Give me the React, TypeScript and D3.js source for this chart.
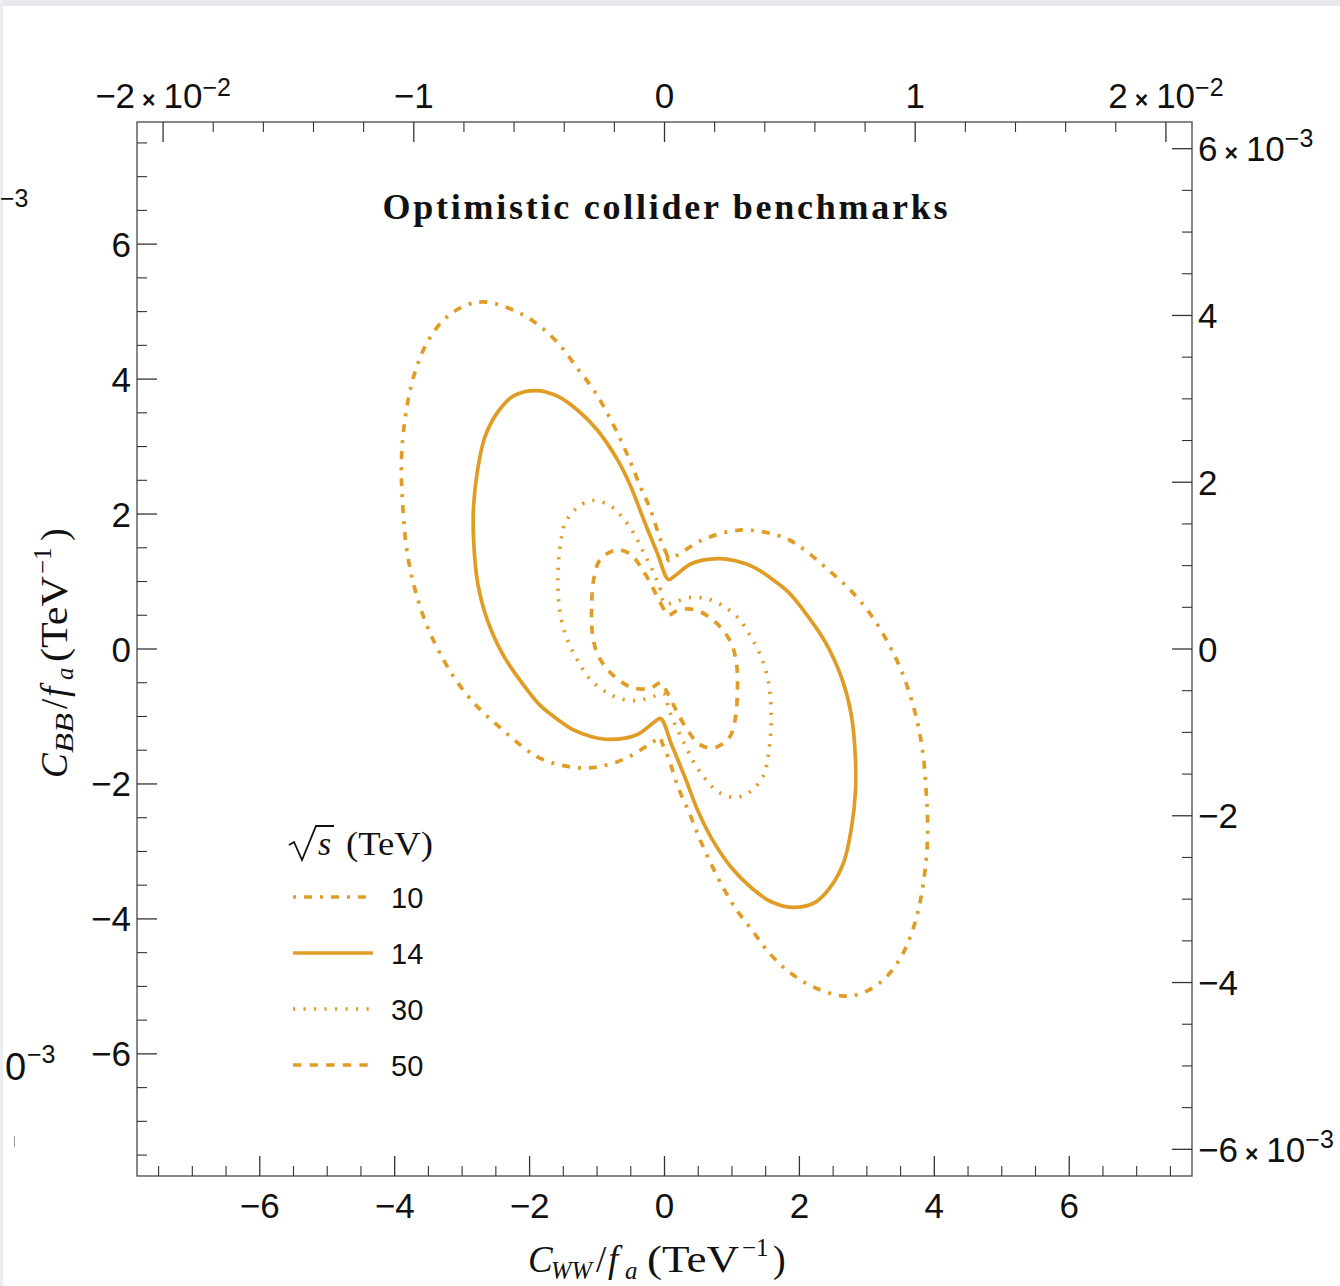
import React from 'react';
import * as d3 from 'd3';

// ---------- data ----------
const energies = ['10', '14', '30', '50'];

// sqrt(s) = 10 TeV (dot-dashed)
const curve10: [number, number][] = [
  [0.06, 1.31], [0.04, 1.38], [-0.06, 1.62], [-0.21, 2.07], [-0.36, 2.41], [-0.5, 2.76],
  [-0.65, 3.1], [-0.85, 3.5], [-1.05, 3.84], [-1.3, 4.17], [-1.54, 4.49], [-1.84, 4.78],
  [-2.19, 5.0], [-2.63, 5.14], [-2.93, 5.1], [-3.27, 4.88], [-3.52, 4.54], [-3.67, 4.19],
  [-3.77, 3.84], [-3.84, 3.45], [-3.89, 3.0], [-3.9, 2.56], [-3.88, 2.12], [-3.84, 1.62],
  [-3.77, 1.18], [-3.67, 0.78], [-3.52, 0.34], [-3.33, -0.06], [-3.08, -0.48], [-2.75, -0.88],
  [-2.43, -1.17], [-2.1, -1.45], [-1.8, -1.64], [-1.29, -1.76], [-0.95, -1.74], [-0.55, -1.61],
  [-0.16, -1.37], [-0.06, -1.31],
  [-0.04, -1.38], [0.06, -1.62], [0.21, -2.07], [0.36, -2.41], [0.5, -2.76],
  [0.65, -3.1], [0.85, -3.5], [1.05, -3.84], [1.3, -4.17], [1.54, -4.49], [1.84, -4.78],
  [2.19, -5.0], [2.63, -5.14], [2.93, -5.1], [3.27, -4.88], [3.52, -4.54], [3.67, -4.19],
  [3.77, -3.84], [3.84, -3.45], [3.89, -3.0], [3.9, -2.56], [3.88, -2.12], [3.84, -1.62],
  [3.77, -1.18], [3.67, -0.78], [3.52, -0.34], [3.33, 0.06], [3.08, 0.48], [2.75, 0.88],
  [2.43, 1.17], [2.1, 1.45], [1.8, 1.64], [1.29, 1.76], [0.95, 1.74], [0.55, 1.61],
  [0.16, 1.37],
];

// sqrt(s) = 14 TeV (solid)
const curve14: [number, number][] = [
  [0.06, 1.03], [-0.11, 1.43], [-0.31, 1.92], [-0.5, 2.41], [-0.7, 2.81], [-1.0, 3.25],
  [-1.3, 3.55], [-1.59, 3.75], [-1.91, 3.83], [-2.24, 3.75], [-2.48, 3.5], [-2.66, 3.15],
  [-2.77, 2.66], [-2.83, 2.12], [-2.83, 1.62], [-2.77, 0.98], [-2.63, 0.44], [-2.38, -0.11],
  [-2.04, -0.6], [-1.84, -0.84], [-1.59, -1.04], [-1.35, -1.2], [-1.08, -1.3], [-0.8, -1.34],
  [-0.41, -1.27], [-0.16, -1.09], [-0.06, -1.03],
  [0.11, -1.43], [0.31, -1.92], [0.5, -2.41], [0.7, -2.81], [1.0, -3.25],
  [1.3, -3.55], [1.59, -3.75], [1.91, -3.83], [2.24, -3.75], [2.48, -3.5], [2.66, -3.15],
  [2.77, -2.66], [2.83, -2.12], [2.83, -1.62], [2.77, -0.98], [2.63, -0.44], [2.38, 0.11],
  [2.04, 0.6], [1.84, 0.84], [1.59, 1.04], [1.35, 1.2], [1.08, 1.3], [0.8, 1.34],
  [0.41, 1.27], [0.16, 1.09],
];

// sqrt(s) = 30 TeV (dotted)
const curve30: [number, number][] = [
  [0.0, 0.67], [-0.06, 0.88], [-0.16, 1.13], [-0.31, 1.43], [-0.43, 1.67], [-0.6, 1.92],
  [-0.8, 2.12], [-1.07, 2.2], [-1.3, 2.09], [-1.47, 1.87], [-1.54, 1.57], [-1.58, 1.13],
  [-1.57, 0.73], [-1.52, 0.39], [-1.42, 0.09], [-1.27, -0.2], [-1.1, -0.45], [-0.85, -0.65],
  [-0.6, -0.75], [-0.36, -0.76], [-0.16, -0.7], [0.0, -0.67],
  [0.06, -0.88], [0.16, -1.13], [0.31, -1.43], [0.43, -1.67], [0.6, -1.92],
  [0.8, -2.12], [1.07, -2.2], [1.3, -2.09], [1.47, -1.87], [1.54, -1.57], [1.58, -1.13],
  [1.57, -0.73], [1.52, -0.39], [1.42, -0.09], [1.27, 0.2], [1.1, 0.45], [0.85, 0.65],
  [0.6, 0.75], [0.36, 0.76], [0.16, 0.7],
];

// sqrt(s) = 50 TeV (dashed)
const curve50: [number, number][] = [
  [0.05, 0.5], [-0.01, 0.59], [-0.11, 0.78], [-0.21, 0.98], [-0.36, 1.23], [-0.5, 1.4],
  [-0.7, 1.47], [-0.95, 1.33], [-1.05, 1.03], [-1.08, 0.63], [-1.07, 0.24], [-1.0, -0.06],
  [-0.85, -0.3], [-0.65, -0.48], [-0.46, -0.58], [-0.21, -0.58], [-0.05, -0.5],
  [0.01, -0.59], [0.11, -0.78], [0.21, -0.98], [0.36, -1.23], [0.5, -1.4],
  [0.7, -1.47], [0.95, -1.33], [1.05, -1.03], [1.08, -0.63], [1.07, -0.24], [1.0, 0.06],
  [0.85, 0.3], [0.65, 0.48], [0.46, 0.58], [0.21, 0.58],
];

const curves = [curve10, curve14, curve30, curve50];

// axis ticks
const bottomMajorTicks = [-6, -4, -2, 0, 2, 4, 6];
const bottomTickLabels = ['−6', '−4', '−2', '0', '2', '4', '6'];
const leftMajorTicks = [-6, -4, -2, 0, 2, 4, 6];
const leftTickLabels = ['−6', '−4', '−2', '0', '2', '4', '6'];
const topMajorTicks = [-0.02, -0.01, 0, 0.01, 0.02];
const topTickLabels = [
  { m: '−2', e: '−2' }, { m: '−1' }, { m: '0' }, { m: '1' }, { m: '2', e: '−2' },
];
const rightMajorTicks = [-0.006, -0.004, -0.002, 0, 0.002, 0.004, 0.006];
const rightTickLabels = [
  { m: '−6', e: '−3' }, { m: '−4' }, { m: '−2' }, { m: '0' }, { m: '2' }, { m: '4' }, { m: '6', e: '−3' },
];

// ---------- styles ----------
const ORANGE = '#E09C24';
const DASHES: Record<string, string | undefined> = {
  '10': '8,8,3,8',
  '14': undefined,
  '30': '2.2,8.3',
  '50': '8.3,8.3',
};
const W = 1340;
const H = 1286;
const L = 137, R = 1192, T = 122, B = 1176;
const SANS = '"Liberation Sans", Arial, sans-serif';
const SERIF = '"Liberation Serif", "Times New Roman", serif';

function SciLabel(props: { x: number; y: number; anchor: string; m: string; e?: string; supDy: number }) {
  const { x, y, anchor, m, e, supDy } = props;
  return (
    <text x={x} y={y} textAnchor={anchor as any} fontFamily={SANS} fontSize={35} fill="#111">
      {m}
      {e ? (
        <>
          <tspan fontSize={23} fontWeight="bold" dx={7}>×</tspan>
          <tspan dx={8}>10</tspan>
          <tspan fontSize={25} dy={supDy}>{e}</tspan>
        </>
      ) : null}
    </text>
  );
}

export default function App() {
  const x = d3.scaleLinear().domain([-7.82, 7.82]).range([L, R]);
  const y = d3.scaleLinear().domain([-7.81, 7.81]).range([B, T]);
  const xTop = d3.scaleLinear().domain([-0.02104, 0.02104]).range([L, R]);
  const yRight = d3.scaleLinear().domain([-0.00632, 0.00632]).range([B, T]);

  const line = d3
    .line<[number, number]>()
    .x((d) => x(d[0]))
    .y((d) => y(d[1]))
    .curve(d3.curveCatmullRomClosed.alpha(0.5));

  const bottomMinor = d3.range(-7.5, 7.51, 0.5).filter((v) => Math.abs(v % 2) > 1e-6);
  const leftMinor = bottomMinor;
  const topMinor = d3.range(-0.02, 0.02001, 0.002).filter((v) => Math.abs(Math.round(v / 0.002) % 5) !== 0);
  const rightMinor = d3.range(-0.0055, 0.00551, 0.0005).filter((v) => Math.abs(Math.round(v / 0.0005) % 4) !== 0);

  const MAJ = 20, MIN = 10;
  const tickColor = '#333';

  const legendYs = [897, 953, 1009, 1065];

  return (
    <svg width={W} height={H} viewBox={`0 0 ${W} ${H}`} style={{ position: 'absolute', left: 0, top: 0, display: 'block', background: '#fff' }}>
      <rect x={0} y={0} width={W} height={H} fill="#fff" />
      <rect x={0} y={0} width={W} height={6} fill="#e8eaed" />
      <rect x={0} y={0} width={3} height={H} fill="#eceef1" />

      {/* clipped fragments of neighbouring panel */}
      <text x={0} y={207} fontFamily={SANS} fontSize={25} fill="#111">−3</text>
      <text x={5} y={1080} fontFamily={SANS} fontSize={38} fill="#111">0</text>
      <text x={27} y={1063} fontFamily={SANS} fontSize={25} fill="#111">−3</text>
      <line x1={14.5} x2={14.5} y1={1136} y2={1147} stroke="#999" strokeWidth={1} />

      {/* curves */}
      {curves.map((c, i) => (
        <path
          key={energies[i]}
          d={line(c) || ''}
          fill="none"
          stroke={ORANGE}
          strokeWidth={3.7}
          strokeDasharray={DASHES[energies[i]]}
          strokeLinejoin="round"
        />
      ))}

      {/* frame */}
      <rect x={L} y={T} width={R - L} height={B - T} fill="none" stroke="#555" strokeWidth={1.4} />

      {/* bottom ticks */}
      {bottomMajorTicks.map((v, i) => (
        <g key={'bM' + v}>
          <line x1={x(v)} x2={x(v)} y1={B} y2={B - MAJ} stroke={tickColor} strokeWidth={1.3} />
          <text x={x(v)} y={1218} textAnchor="middle" fontFamily={SANS} fontSize={35} fill="#111">
            {bottomTickLabels[i]}
          </text>
        </g>
      ))}
      {bottomMinor.map((v) => (
        <line key={'bm' + v} x1={x(v)} x2={x(v)} y1={B} y2={B - MIN} stroke={tickColor} strokeWidth={1.1} />
      ))}

      {/* left ticks */}
      {leftMajorTicks.map((v, i) => (
        <g key={'lM' + v}>
          <line x1={L} x2={L + MAJ} y1={y(v)} y2={y(v)} stroke={tickColor} strokeWidth={1.3} />
          <text x={131} y={y(v) + 12.5} textAnchor="end" fontFamily={SANS} fontSize={35} fill="#111">
            {leftTickLabels[i]}
          </text>
        </g>
      ))}
      {leftMinor.map((v) => (
        <line key={'lm' + v} x1={L} x2={L + MIN} y1={y(v)} y2={y(v)} stroke={tickColor} strokeWidth={1.1} />
      ))}

      {/* top ticks */}
      {topMajorTicks.map((v, i) => (
        <g key={'tM' + v}>
          <line x1={xTop(v)} x2={xTop(v)} y1={T} y2={T + MAJ} stroke={tickColor} strokeWidth={1.3} />
          <SciLabel x={xTop(v)} y={108} anchor="middle" m={topTickLabels[i].m} e={topTickLabels[i].e} supDy={-12} />
        </g>
      ))}
      {topMinor.map((v) => (
        <line key={'tm' + v} x1={xTop(v)} x2={xTop(v)} y1={T} y2={T + MIN} stroke={tickColor} strokeWidth={1.1} />
      ))}

      {/* right ticks */}
      {rightMajorTicks.map((v, i) => (
        <g key={'rM' + v}>
          <line x1={R} x2={R - MAJ} y1={yRight(v)} y2={yRight(v)} stroke={tickColor} strokeWidth={1.3} />
          <SciLabel x={1198} y={yRight(v) + 12.5} anchor="start" m={rightTickLabels[i].m} e={rightTickLabels[i].e} supDy={-14} />
        </g>
      ))}
      {rightMinor.map((v) => (
        <line key={'rm' + v} x1={R} x2={R - MIN} y1={yRight(v)} y2={yRight(v)} stroke={tickColor} strokeWidth={1.1} />
      ))}

      {/* title */}
      <text x={665} y={219} textAnchor="middle" fontFamily={SERIF} fontWeight="bold" fontSize={36}
        textLength={565} lengthAdjust="spacing" fill="#111">
        Optimistic collider benchmarks
      </text>

      {/* bottom axis label */}
      <text fontFamily={SERIF} fontSize={37} fill="#111">
        <tspan x={528} y={1272} fontStyle="italic">C</tspan>
        <tspan x={551} y={1279} fontStyle="italic" fontSize={25} textLength={41} lengthAdjust="spacingAndGlyphs">WW</tspan>
        <tspan x={596} y={1272}>/</tspan>
        <tspan x={608} y={1272} fontStyle="italic">f</tspan>
        <tspan x={625} y={1279} fontStyle="italic" fontSize={25}>a</tspan>
        <tspan x={647} y={1272} fontSize={38} textLength={92} lengthAdjust="spacingAndGlyphs">(TeV</tspan>
        <tspan x={742} y={1256} fontSize={25}>−1</tspan>
        <tspan x={773} y={1272} fontSize={38}>)</tspan>
      </text>

      {/* left axis label */}
      <g transform="translate(67,649) rotate(-90)">
        <text fontFamily={SERIF} fontSize={37} fill="#111">
          <tspan x={-129} y={0} fontStyle="italic">C</tspan>
          <tspan x={-104} y={6} fontStyle="italic" fontSize={25} textLength={40} lengthAdjust="spacingAndGlyphs">BB</tspan>
          <tspan x={-60} y={0}>/</tspan>
          <tspan x={-48} y={0} fontStyle="italic">f</tspan>
          <tspan x={-31} y={6} fontStyle="italic" fontSize={25}>a</tspan>
          <tspan x={-13} y={0} fontSize={38} textLength={86} lengthAdjust="spacingAndGlyphs">(TeV</tspan>
          <tspan x={75} y={-16} fontSize={25}>−1</tspan>
          <tspan x={108} y={0} fontSize={38}>)</tspan>
        </text>
      </g>

      {/* legend */}
      <path d="M289,845 L294,842 L302,860 L316,826 L334,826" fill="none" stroke="#111" strokeWidth={1.8} />
      <text x={318} y={855} fontFamily={SERIF} fontStyle="italic" fontSize={34} fill="#111">s</text>
      <text x={346} y={855} fontFamily={SERIF} fontSize={34} textLength={87} lengthAdjust="spacingAndGlyphs" fill="#111">(TeV)</text>
      {energies.map((e, i) => (
        <g key={'lg' + e}>
          <line
            x1={293}
            x2={373}
            y1={legendYs[i]}
            y2={legendYs[i]}
            stroke={ORANGE}
            strokeWidth={3.7}
            strokeDasharray={DASHES[e]}
            strokeDashoffset={e === '10' ? 16 : 0}
          />
          <text x={391} y={legendYs[i] + 10.5} fontFamily={SANS} fontSize={29} fill="#111">{e}</text>
        </g>
      ))}
    </svg>
  );
}
